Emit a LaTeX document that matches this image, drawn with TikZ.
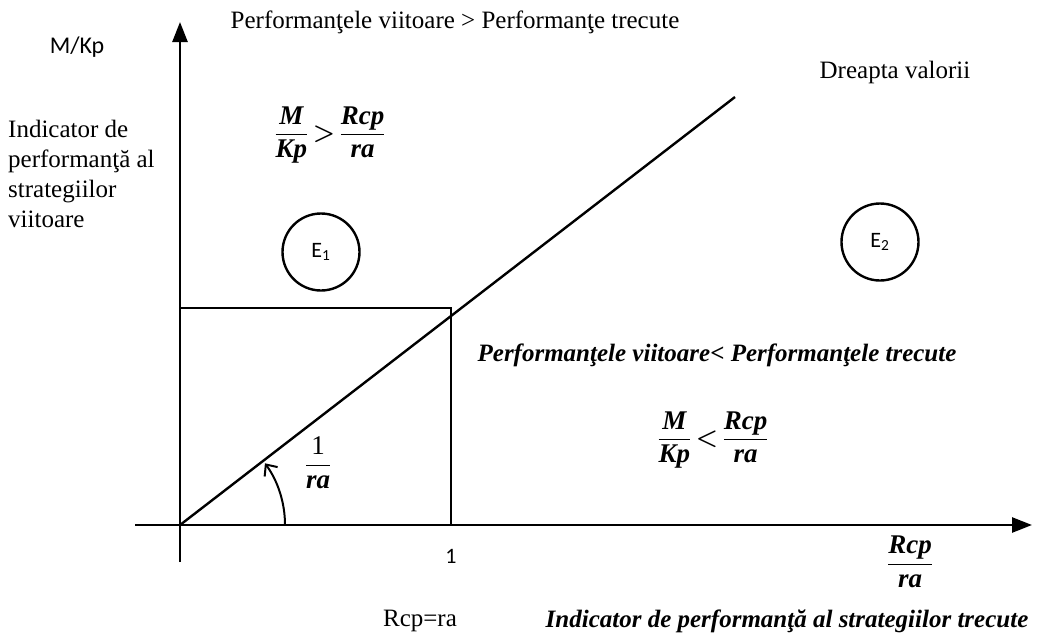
\documentclass[tikz,border=0pt]{standalone}
\usepackage{amsmath}
\usepackage{fontspec}
\setmainfont{Liberation Serif}
\newfontfamily\calibri{Carlito}
\usetikzlibrary{arrows.meta}
\newcommand{\bfr}[2]{$\dfrac{\text{\bfseries\itshape #1}}{\text{\bfseries\itshape #2}}$}

\begin{document}
\begin{tikzpicture}[x=1pt,y=-1pt,
    axis/.style={line width=2.6pt, -{Triangle[length=20pt,width=15pt]}},
    guide/.style={line width=2pt},
    firm/.style={circle, draw, line width=2.4pt, minimum size=77pt, inner sep=0pt, font=\calibri\fontsize{22}{26}\selectfont},
    txt/.style={font=\fontsize{25}{30}\selectfont, inner sep=0pt},
    bold/.style={font=\fontsize{25}{30}\selectfont\bfseries\itshape, inner sep=0pt},
    frac/.style={font=\fontsize{27}{31}\selectfont, inner sep=0pt}
  ]
  \useasboundingbox (0,0) rectangle (1039,635);

  % axes
  \coordinate (O) at (180,525);
  \coordinate (ybot) at (180,562);
  \coordinate (ytop) at (180,22);
  \coordinate (xleft) at (135,525);
  \coordinate (xright) at (1032,525);
  \draw[axis] (ybot) -- (ytop);
  \draw[axis] (xleft) -- (xright);

  % value line and unit square
  \coordinate (vend) at (735,97);
  \coordinate (sq) at (451,308);
  \draw[line width=2.4pt] (O) -- (vend);
  \draw[guide] (180,308) -- (sq) -- (451,525);

  % angle
  \coordinate (a0) at (285,525);
  \draw[line width=2pt, -{Straight Barb[length=9pt,width=16pt]}] (a0) arc[start angle=0, end angle=36, radius=105pt];

  % labels
  \node[txt] (title) at (455,22) {Performanţele viitoare > Performanţe trecute};
  \node[font=\calibri\fontsize{24}{28}\selectfont] (ylab) at (77,47) {M/Kp};
  \node[txt, anchor=north west, align=left] (ydesc) at (8,120) {Indicator de\\performanţă al\\strategiilor\\viitoare};
  \node[txt] (dv) at (895,72) {Dreapta valorii};
  \node[frac] (upper) at (330,135) {\bfr{M}{Kp}\,{\boldmath$>$}\,\bfr{Rcp}{ra}};
  \node[firm] (e1) at (321,252) {E\textsubscript{1}};
  \node[firm] (e2) at (880,242) {E\textsubscript{2}};
  \node[bold] (lowtxt) at (717,355) {Performanţele viitoare< Performanţele trecute};
  \node[frac] (lower) at (713,440) {\bfr{M}{Kp}\,{\boldmath$<$}\,\bfr{Rcp}{ra}};
  \node[frac] (slope) at (318,463) {$\dfrac{\text{1}}{\text{\bfseries\itshape ra}}$};
  \node[font=\calibri\fontsize{22}{26}\selectfont] (one) at (451,556) {1};
  \node[frac] (xlab) at (910,562) {\bfr{Rcp}{ra}};
  \node[txt] (eq) at (420,621) {Rcp=ra};
  \node[bold] (xdesc) at (787,621) {Indicator de performanţă al strategiilor trecute};
\end{tikzpicture}
\end{document}
